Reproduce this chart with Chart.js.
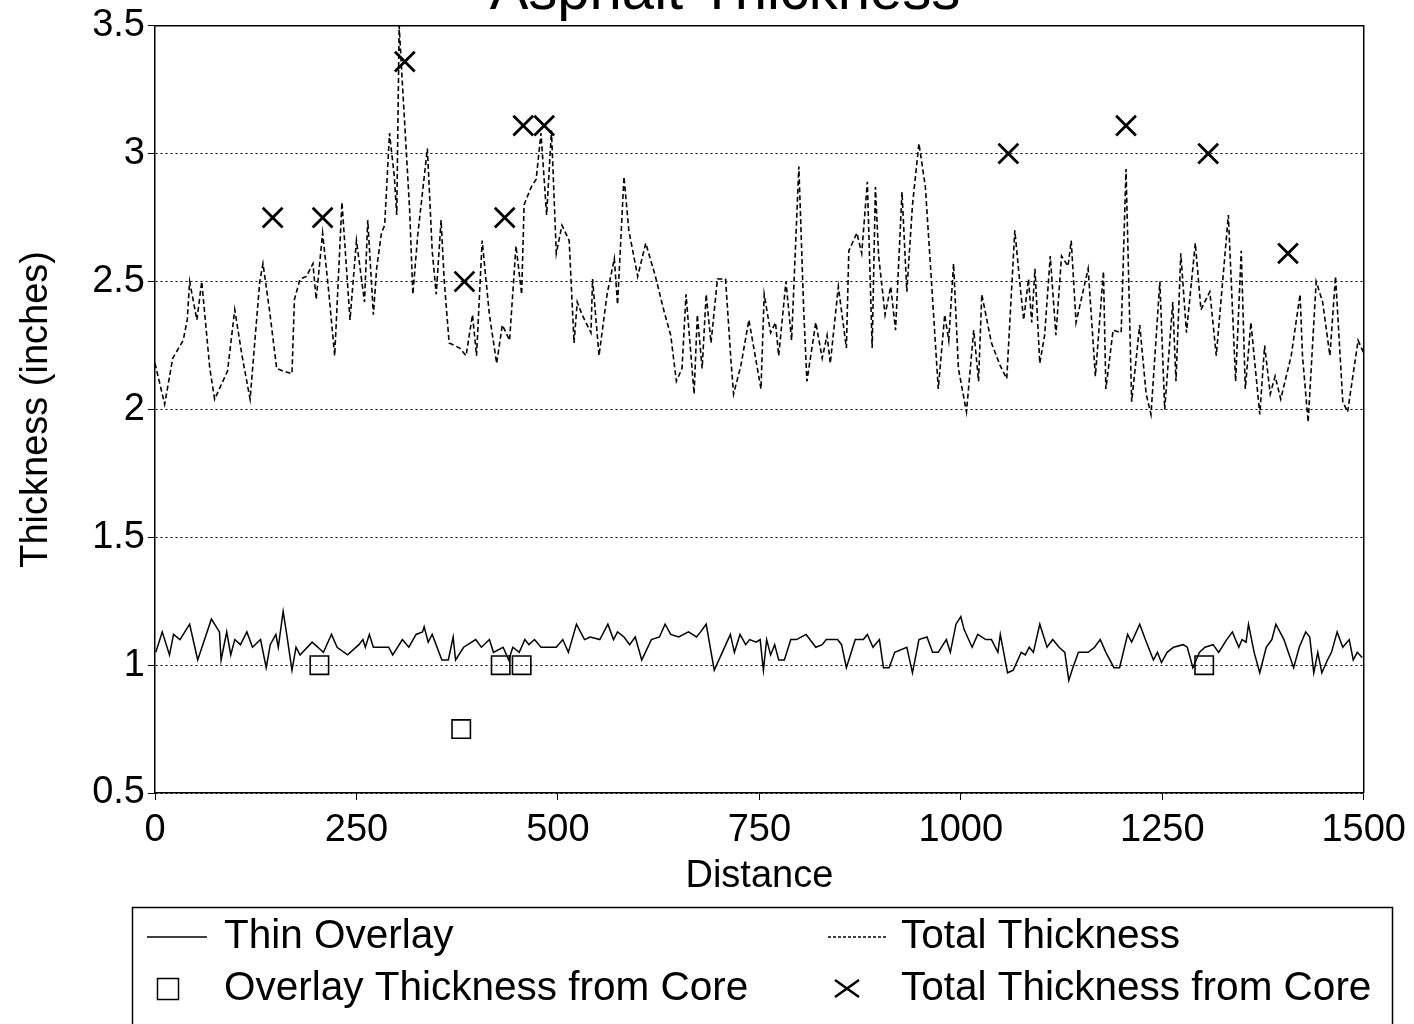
<!DOCTYPE html>
<html>
<head>
<meta charset="utf-8">
<title>Asphalt Thickness</title>
<script src="https://cdn.jsdelivr.net/npm/chart.js@4"></script>
<style>
  body { margin: 0; background: #fff; }
  canvas { display: block; }
</style>
</head>
<body>
<canvas id="thicknessChart" width="1414" height="1024"></canvas>
<script>
// Data
const totalDist = [0, 12, 22, 35, 40, 43, 52, 58, 68, 74, 90, 99, 108, 118, 130, 134, 142, 151, 159, 170,
  173, 180, 188, 196, 200, 208, 215, 223, 232, 242, 250, 260, 264, 271, 275, 281, 285, 291, 297, 300,
  303, 306, 316, 320, 326, 338, 344, 349, 355, 359, 365, 378, 386, 394, 399, 406, 415, 424, 431, 440,
  448, 455, 458, 467, 473, 479, 486, 492, 498, 505, 514, 520, 524, 530, 541, 543, 551, 561, 570, 574,
  582, 588, 599, 609, 621, 632, 640, 647, 654, 659, 669, 673, 679, 684, 690, 698, 708, 715, 718, 727,
  737, 752, 756, 764, 770, 774, 783, 790, 799, 805, 809, 820, 828, 834, 838, 848, 858, 861, 871, 877,
  884, 890, 894, 898, 906, 913, 919, 927, 933, 940, 948, 956, 964, 972, 980, 985, 991, 997, 1007, 1016,
  1022, 1026, 1038, 1049, 1057, 1067, 1074, 1078, 1084, 1088, 1092, 1098, 1104, 1111, 1118, 1125, 1133, 1137, 1143, 1158,
  1167, 1177, 1180, 1189, 1199, 1205, 1212, 1222, 1230, 1236, 1247, 1253, 1263, 1267, 1273, 1280, 1291, 1298, 1309, 1317,
  1332, 1341, 1348, 1353, 1360, 1371, 1377, 1384, 1390, 1397, 1410, 1421, 1424, 1431, 1441, 1449, 1458, 1465, 1474, 1480,
  1493, 1500];
const totalVals = [2.18, 2.02, 2.20, 2.27, 2.35, 2.50, 2.35, 2.50, 2.16, 2.04, 2.15, 2.39, 2.21, 2.04, 2.50, 2.57, 2.39, 2.16, 2.15, 2.14,
  2.43, 2.51, 2.52, 2.57, 2.43, 2.69, 2.48, 2.21, 2.81, 2.35, 2.66, 2.42, 2.74, 2.37, 2.55, 2.69, 2.72, 3.08, 2.91, 2.76,
  3.50, 3.33, 2.78, 2.45, 2.68, 3.02, 2.62, 2.45, 2.74, 2.50, 2.26, 2.24, 2.21, 2.37, 2.21, 2.66, 2.37, 2.18, 2.33, 2.27,
  2.64, 2.45, 2.80, 2.87, 2.90, 3.08, 2.76, 3.09, 2.61, 2.72, 2.66, 2.26, 2.42, 2.37, 2.30, 2.51, 2.21, 2.45, 2.59, 2.41,
  2.91, 2.70, 2.52, 2.65, 2.52, 2.38, 2.29, 2.11, 2.16, 2.45, 2.06, 2.37, 2.16, 2.45, 2.26, 2.51, 2.51, 2.18, 2.06, 2.17,
  2.35, 2.08, 2.45, 2.30, 2.34, 2.21, 2.50, 2.27, 2.95, 2.39, 2.11, 2.34, 2.20, 2.29, 2.18, 2.48, 2.24, 2.62, 2.69, 2.61,
  2.89, 2.24, 2.87, 2.60, 2.37, 2.48, 2.31, 2.85, 2.46, 2.80, 3.04, 2.87, 2.48, 2.08, 2.37, 2.27, 2.57, 2.16, 1.99, 2.31,
  2.11, 2.45, 2.26, 2.17, 2.12, 2.70, 2.47, 2.35, 2.51, 2.34, 2.55, 2.18, 2.29, 2.60, 2.29, 2.60, 2.56, 2.66, 2.34, 2.55,
  2.13, 2.54, 2.08, 2.31, 2.30, 2.94, 2.03, 2.33, 2.06, 1.98, 2.50, 2.00, 2.42, 2.11, 2.61, 2.30, 2.65, 2.39, 2.46, 2.21,
  2.76, 2.11, 2.62, 2.08, 2.34, 1.98, 2.25, 2.06, 2.13, 2.04, 2.21, 2.45, 2.21, 1.95, 2.50, 2.42, 2.21, 2.52, 2.03, 1.99,
  2.27, 2.22];

const overlayDist = [1, 9, 18, 23, 31, 43, 53, 70, 80, 82, 89, 94, 99, 106, 114, 121, 131, 138, 143, 150,
  153, 159, 163, 170, 175, 180, 195, 209, 219, 226, 239, 253, 258, 261, 266, 271, 290, 295, 307, 315,
  324, 332, 334, 339, 344, 356, 364, 370, 373, 383, 398, 405, 415, 420, 432, 439, 444, 452, 459, 464,
  471, 479, 498, 506, 513, 523, 533, 540, 552, 562, 569, 574, 582, 589, 596, 604, 616, 626, 633, 640,
  650, 662, 667, 672, 677, 684, 694, 704, 714, 719, 726, 733, 738, 746, 751, 755, 759, 764, 769, 774,
  781, 789, 796, 808, 820, 828, 833, 847, 852, 858, 869, 879, 884, 891, 899, 904, 911, 918, 933, 940,
  948, 958, 965, 972, 982, 987, 994, 1000, 1004, 1014, 1021, 1031, 1038, 1046, 1049, 1058, 1065, 1075, 1080, 1085,
  1090, 1098, 1107, 1114, 1122, 1129, 1134, 1139, 1146, 1158, 1166, 1173, 1180, 1190, 1197, 1207, 1212, 1222, 1229, 1239,
  1244, 1249, 1256, 1264, 1276, 1281, 1288, 1296, 1303, 1313, 1320, 1330, 1337, 1345, 1349, 1354, 1357, 1364, 1371, 1379,
  1386, 1391, 1401, 1413, 1420, 1428, 1433, 1438, 1443, 1448, 1455, 1460, 1467, 1474, 1482, 1487, 1492, 1498];
const overlayVals = [1.05, 1.13, 1.04, 1.12, 1.10, 1.16, 1.02, 1.18, 1.13, 1.02, 1.13, 1.04, 1.10, 1.08, 1.13, 1.07, 1.10, 0.99, 1.08, 1.12,
  1.07, 1.21, 1.13, 0.98, 1.07, 1.04, 1.09, 1.05, 1.12, 1.07, 1.04, 1.08, 1.10, 1.07, 1.12, 1.07, 1.07, 1.04, 1.10, 1.07,
  1.12, 1.13, 1.15, 1.09, 1.12, 1.02, 1.02, 1.11, 1.02, 1.07, 1.10, 1.07, 1.10, 1.05, 1.07, 1.02, 1.07, 1.05, 1.10, 1.08,
  1.10, 1.07, 1.07, 1.10, 1.05, 1.16, 1.10, 1.11, 1.10, 1.16, 1.10, 1.13, 1.11, 1.08, 1.11, 1.02, 1.10, 1.11, 1.16, 1.12,
  1.11, 1.13, 1.12, 1.11, 1.13, 1.16, 0.98, 1.05, 1.12, 1.05, 1.12, 1.08, 1.10, 1.09, 1.10, 0.98, 1.10, 1.04, 1.08, 1.02,
  1.02, 1.10, 1.10, 1.12, 1.07, 1.08, 1.10, 1.10, 1.08, 0.99, 1.10, 1.10, 1.12, 1.07, 1.10, 0.99, 0.99, 1.05, 1.07, 0.97,
  1.10, 1.11, 1.05, 1.05, 1.10, 1.05, 1.16, 1.19, 1.14, 1.07, 1.12, 1.10, 1.10, 1.05, 1.12, 0.97, 0.98, 1.05, 1.04, 1.07,
  1.05, 1.16, 1.07, 1.10, 1.07, 1.05, 0.94, 0.99, 1.05, 1.05, 1.07, 1.10, 1.05, 0.99, 0.99, 1.12, 1.09, 1.16, 1.10, 1.02,
  1.05, 1.01, 1.05, 1.07, 1.08, 1.07, 0.99, 1.05, 1.07, 1.08, 1.05, 1.10, 1.13, 1.07, 1.10, 1.09, 1.16, 1.05, 0.97, 1.07,
  1.10, 1.16, 1.10, 0.99, 1.07, 1.13, 1.11, 0.97, 1.05, 0.97, 1.02, 1.05, 1.13, 1.07, 1.10, 1.02, 1.05, 1.03];

const coreOverlayDist = [204, 380, 429, 455, 1302];
const coreOverlayVals = [1.0, 0.75, 1.0, 1.0, 1.0];

const coreTotalDist = [146, 208, 310, 384, 434, 457, 483, 1059, 1205, 1307, 1406];
const coreTotalVals = [2.75, 2.75, 3.36, 2.5, 2.75, 3.11, 3.11, 3.0, 3.11, 3.0, 2.61];

const xTicks = [0, 250, 500, 750, 1000, 1250, 1500];
const yTicks = [0.5, 1, 1.5, 2, 2.5, 3, 3.5];

const toPoints = (xs, ys) => xs.map((x, i) => ({ x: x, y: ys[i] }));

const FONT = '"Liberation Sans", Arial, Helvetica, sans-serif';

// Title (mostly cut off at the top edge), plot frame and legend box
const decorations = {
  id: 'decorations',
  afterDraw(chart) {
    const ctx = chart.ctx;
    const area = chart.chartArea;
    ctx.save();
    ctx.fillStyle = '#000';
    ctx.strokeStyle = '#000';

    // title
    ctx.font = '58px ' + FONT;
    ctx.textAlign = 'center';
    ctx.textBaseline = 'alphabetic';
    ctx.fillText('Asphalt Thickness', 725, 9);

    // frame top + right
    ctx.lineWidth = 1.5;
    ctx.beginPath();
    ctx.moveTo(area.left, area.top);
    ctx.lineTo(area.right, area.top);
    ctx.lineTo(area.right, area.bottom);
    ctx.stroke();

    // legend
    ctx.lineWidth = 1.5;
    ctx.strokeRect(132.5, 907.5, 1260, 200);
    ctx.font = '40.5px ' + FONT;
    ctx.textAlign = 'left';
    ctx.textBaseline = 'middle';

    ctx.lineWidth = 1.5;
    ctx.beginPath();
    ctx.moveTo(147, 937);
    ctx.lineTo(207, 937);
    ctx.stroke();
    ctx.fillText('Thin Overlay', 224, 937);

    ctx.setLineDash([3, 2]);
    ctx.beginPath();
    ctx.moveTo(828, 937);
    ctx.lineTo(888, 937);
    ctx.stroke();
    ctx.setLineDash([]);
    ctx.fillText('Total Thickness', 901, 937);

    ctx.lineWidth = 1.5;
    ctx.strokeRect(157.5, 978.5, 21, 21);
    ctx.fillText('Overlay Thickness from Core', 224, 989);

    ctx.lineWidth = 2.5;
    ctx.beginPath();
    ctx.moveTo(835, 980);
    ctx.lineTo(859, 997);
    ctx.moveTo(859, 980);
    ctx.lineTo(835, 997);
    ctx.stroke();
    ctx.fillText('Total Thickness from Core', 901, 989);

    ctx.restore();
  }
};

const ctx = document.getElementById('thicknessChart');
new Chart(ctx, {
  type: 'scatter',
  data: {
    datasets: [
      {
        label: 'Thin Overlay',
        data: toPoints(overlayDist, overlayVals),
        showLine: true,
        borderColor: '#000',
        borderWidth: 1.5,
        pointRadius: 0,
        tension: 0,
      },
      {
        label: 'Total Thickness',
        data: toPoints(totalDist, totalVals),
        showLine: true,
        borderColor: '#000',
        borderWidth: 1.6,
        borderDash: [5, 3],
        pointRadius: 0,
        tension: 0,
      },
      {
        label: 'Overlay Thickness from Core',
        data: toPoints(coreOverlayDist, coreOverlayVals),
        pointStyle: 'rect',
        pointRadius: 13,
        pointBorderWidth: 1.6,
        pointBorderColor: '#000',
        pointBackgroundColor: 'rgba(0,0,0,0)',
      },
      {
        label: 'Total Thickness from Core',
        data: toPoints(coreTotalDist, coreTotalVals),
        pointStyle: 'crossRot',
        pointRadius: 14,
        pointBorderWidth: 2.8,
        pointBorderColor: '#000',
        pointBackgroundColor: '#000',
      },
    ],
  },
  options: {
    responsive: false,
    animation: false,
    devicePixelRatio: 1,
    layout: {
      padding: { top: 22, right: 48, bottom: 125, left: 0 },
    },
    plugins: {
      legend: { display: false },
      title: { display: false },
      tooltip: { enabled: false },
    },
    scales: {
      x: {
        type: 'linear',
        min: 0,
        max: 1500,
        afterFit: (scale) => { scale.height = 106; },
        afterBuildTicks: (scale) => { scale.ticks = xTicks.map((v) => ({ value: v })); },
        grid: {
          drawOnChartArea: false,
          drawTicks: true,
          tickLength: 7,
          tickColor: '#000',
        },
        border: { color: '#000', width: 1.5 },
        ticks: {
          color: '#000',
          font: { family: FONT, size: 38 },
          padding: 8,
          maxRotation: 0,
          callback: (v) => String(v),
        },
        title: {
          display: true,
          text: 'Distance',
          color: '#000',
          font: { family: FONT, size: 38 },
          padding: { top: 0, bottom: 0 },
        },
      },
      y: {
        type: 'linear',
        min: 0.5,
        max: 3.5,
        afterFit: (scale) => { scale.width = 155; },
        afterBuildTicks: (scale) => { scale.ticks = yTicks.map((v) => ({ value: v })); },
        grid: {
          color: '#000',
          lineWidth: 1,
          drawTicks: true,
          tickLength: 7,
          tickColor: '#000',
        },
        border: { color: '#000', width: 1.5, dash: [2, 3] },
        ticks: {
          color: '#000',
          font: { family: FONT, size: 38 },
          padding: 3,
          callback: (v) => String(v),
        },
        title: {
          display: true,
          text: 'Thickness (inches)',
          color: '#000',
          font: { family: FONT, size: 38 },
          padding: { top: 14, bottom: 0 },
        },
      },
    },
  },
  plugins: [decorations],
});
</script>
</body>
</html>
